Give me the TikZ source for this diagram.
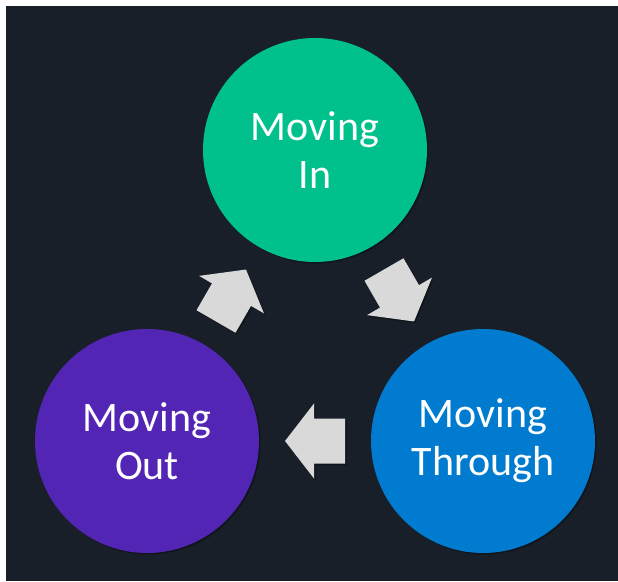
\documentclass[tikz,border=0pt]{standalone}
\usepackage{fontspec}
\setmainfont{Carlito}
\usetikzlibrary{shadows, calc}
\definecolor{bgdark}{HTML}{181F28}
\definecolor{ingreen}{HTML}{00C18C}
\definecolor{outpurple}{HTML}{5325B4}
\definecolor{thrublue}{HTML}{007BCF}
\definecolor{arrowgray}{HTML}{D9D9D9}
\begin{document}
\begin{tikzpicture}[
        x=1pt, y=-1pt,
        stage/.style={circle, minimum size=224pt, inner sep=0pt, text=white, align=center,
            font=\fontsize{42}{48}\selectfont,
            drop shadow={shadow xshift=1.5pt, shadow yshift=-1.5pt, opacity=0.3, fill=black}},
        blockarrow/.style={fill=arrowgray,
            drop shadow={shadow xshift=1.5pt, shadow yshift=-1.5pt, opacity=0.3, fill=black}}
    ]
    
    % Frame
    \useasboundingbox (0,0) rectangle (618,581);
    \fill[bgdark] (6,6) rectangle (618,581);
    
    % Stages
    \node[stage, fill=ingreen] (in) at (315,150) {Moving\\In};
    \node[stage, fill=thrublue] (through) at (483,441) {Moving\\Through};
    \node[stage, fill=outpurple] (out) at (147,441) {Moving\\Out};
    
    % Arrows between stages
    \foreach \a/\b/\ang in {in/through/-60, through/out/180, out/in/60} {
        \begin{scope}[shift={($(\a)!0.5!(\b)$)}, rotate=\ang]
            \path[blockarrow] (-30,-22.5) -- (1,-22.5) -- (1,-37.5) -- (30,0)
                -- (1,37.5) -- (1,22.5) -- (-30,22.5) -- cycle;
        \end{scope}
    }
    
\end{tikzpicture}
\end{document}
